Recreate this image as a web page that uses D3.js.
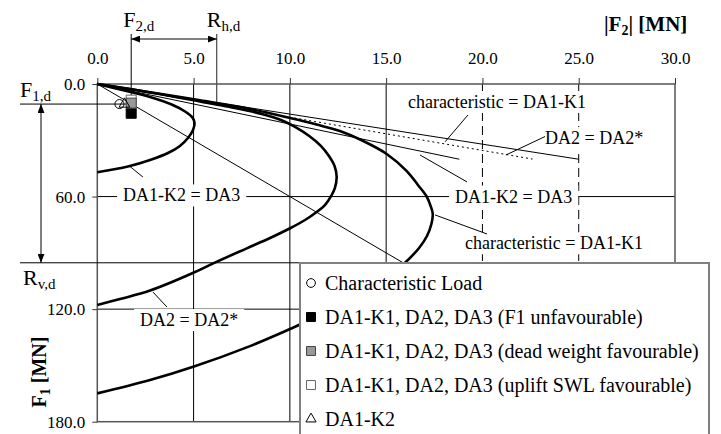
<!DOCTYPE html>
<html>
<head>
<meta charset="utf-8">
<script src="https://cdn.jsdelivr.net/npm/d3@7"></script>
<style>
  body { margin: 0; background: #fff; }
  svg { display: block; font-family: "Liberation Serif", "Times New Roman", serif; }
</style>
</head>
<body>
<div class="chart"></div>
<script>
// ticks of both axes (|F2| on top, F1 downwards)
const f2Ticks = [0, 5, 10, 15, 20, 25, 30];
const f1Ticks = [0, 60, 120, 180];
const dashedF2 = [20, 25];

// resistance curves, pairs of [|F2|, F1] in MN
const curveChar = [[0, 0], [2.74, 4.4], [5.33, 8.7], [7.93, 13.3], [10.01, 18.1], [11.39, 21.6],
  [12.6, 25.1], [13.81, 30.4], [15.03, 37.3], [16.07, 46.4], [16.65, 53.8], [17.11, 60.1],
  [17.33, 65.6], [17.42, 69.3], [17.35, 74.6], [17.12, 81.0], [16.71, 87.4], [15.98, 95.3],
  [15.3, 101.3], [14.42, 108.2], [13.38, 114.9], [12.08, 119.9], [10.53, 128.2], [10.01, 130.6],
  [7.93, 139.7], [5.02, 150.6], [2.74, 157.8], [0, 164.9]];
const curveDA2 = [[0, 0], [2.74, 4.5], [5.33, 9.3], [6.89, 12.3], [8.54, 16.0], [9.66, 19.7],
  [10.27, 22.9], [11.04, 28.0], [11.62, 33.1], [12.03, 38.4], [12.32, 43.7], [12.43, 49.4],
  [12.34, 55.4], [12.17, 59.2], [11.82, 64.5], [11.39, 68.2], [10.79, 72.5], [10.01, 76.9],
  [8.97, 82.1], [7.76, 87.6], [6.02, 95.6], [5.02, 100.5], [2.74, 110.1], [1.18, 114.6], [0, 117.8]];
const curveDA1K2 = [[0, 0], [1.35, 3.3], [2.74, 6.9], [3.95, 11.3], [4.6, 14.9], [4.95, 18.0],
  [5.05, 21.0], [4.97, 24.5], [4.73, 28.5], [4.29, 33.0], [3.67, 36.8], [2.74, 40.5],
  [1.59, 44.0], [0, 47.0]];

// straight lines out of the origin
const lineChar = [[0, 0], [25.0, 40.1]];
const lineDA2 = [[0, 0], [22.6, 40.0]];
const lineDA1K2 = [[0, 0], [18.8, 40.1]];
const loadLine = [[0, 0], [16.0, 96.0]];

// design values
const F2d = 1.76, Rhd = 6.2, F1d = 10.7, Rvd = 95.3;

// load points
const loadNames = ["Characteristic Load", "DA1-K1, DA2, DA3 (F1 unfavourable)",
  "DA1-K1, DA2, DA3 (dead weight favourable)", "DA1-K1, DA2, DA3 (uplift SWL favourable)", "DA1-K2"];
const loadF2 = [1.15, 1.76, 1.76, 1.76, 1.41];
const loadF1 = [10.7, 15.6, 10.2, 8.6, 10.7];

function chart() {
    const svg = d3.select("div.chart").append("svg")
        .attr("width", 721)
        .attr("height", 434);

    const x = d3.scaleLinear().domain([0, 30]).range([97.3, 675]);
    const y = d3.scaleLinear().domain([0, 180]).range([84, 421.7]);

    // arrow heads for the dimension lines
    svg.append("defs").append("marker")
        .attr("id", "arrow")
        .attr("markerUnits", "userSpaceOnUse")
        .attr("markerWidth", 9).attr("markerHeight", 7)
        .attr("refX", 9).attr("refY", 3.5)
        .attr("orient", "auto-start-reverse")
        .append("path").attr("d", "M0,0 L9,3.5 L0,7 z").attr("fill", "#000");

    // grid
    const grid = svg.append("g");
    grid.selectAll(".gv").data(f2Ticks.slice(1, -1)).enter().append("line")
        .attr("x1", d => x(d)).attr("x2", d => x(d))
        .attr("y1", y(0)).attr("y2", y(180))
        .attr("stroke", "#000")
        .attr("stroke-dasharray", d => dashedF2.includes(d) ? "9,5" : null);
    grid.selectAll(".gh").data(f1Ticks.slice(1, -1)).enter().append("line")
        .attr("x1", x(0)).attr("x2", x(30))
        .attr("y1", d => y(d)).attr("y2", d => y(d))
        .attr("stroke", "#000");

    svg.append("rect")
        .attr("x", x(0)).attr("y", y(0))
        .attr("width", x(30) - x(0)).attr("height", y(180) - y(0))
        .attr("fill", "none").attr("stroke", "#555").attr("stroke-width", 1.5);

    // axes
    const fmt = d3.format(".1f");
    const xAxis = svg.append("g")
        .attr("transform", `translate(0,${y(0)})`)
        .call(d3.axisTop(x).tickValues(f2Ticks).tickFormat(fmt)
            .tickSizeInner(6).tickSizeOuter(0).tickPadding(14));
    const yAxis = svg.append("g")
        .attr("transform", `translate(${x(0)},0)`)
        .call(d3.axisLeft(y).tickValues(f1Ticks).tickFormat(fmt)
            .tickSizeInner(5).tickSizeOuter(0).tickPadding(7));
    [xAxis, yAxis].forEach(a => {
        a.attr("font-family", null).attr("font-size", 17);
        a.select(".domain").remove();
        a.selectAll("line").attr("stroke", "#333");
        a.selectAll("text").attr("fill", "#000");
    });

    // axis titles
    const t2 = svg.append("text").attr("x", 604).attr("y", 31)
        .attr("font-size", 21).attr("font-weight", "bold");
    t2.append("tspan").text("|F");
    t2.append("tspan").attr("font-size", 14).attr("dy", 4).text("2");
    t2.append("tspan").attr("dy", -4).text("| [MN]");

    const t1 = svg.append("text")
        .attr("transform", "translate(46,372) rotate(-90)")
        .attr("text-anchor", "middle")
        .attr("font-size", 20).attr("font-weight", "bold");
    t1.append("tspan").text("F");
    t1.append("tspan").attr("font-size", 14).attr("dy", 4).text("1");
    t1.append("tspan").attr("dy", -4).text(" [MN]");

    // design value guides
    const guide = svg.append("g").attr("stroke", "#000").attr("fill", "none");
    guide.append("line").attr("x1", x(F2d)).attr("x2", x(F2d)).attr("y1", 34).attr("y2", y(F1d));
    guide.append("line").attr("x1", x(Rhd)).attr("x2", x(Rhd)).attr("y1", 34).attr("y2", y(F1d) - 1)
        .attr("stroke", "#555").attr("stroke-width", 1.3);
    guide.append("line").attr("x1", 20).attr("x2", x(F2d)).attr("y1", y(F1d)).attr("y2", y(F1d));
    guide.append("line").attr("x1", 20).attr("x2", x(30)).attr("y1", y(Rvd)).attr("y2", y(Rvd));
    guide.append("line").attr("x1", x(F2d)).attr("x2", x(Rhd)).attr("y1", 39).attr("y2", 39)
        .attr("marker-start", "url(#arrow)").attr("marker-end", "url(#arrow)");
    guide.append("line").attr("x1", 41).attr("x2", 41).attr("y1", y(F1d)).attr("y2", y(Rvd))
        .attr("marker-start", "url(#arrow)").attr("marker-end", "url(#arrow)");

    const subLabel = (px, py, main, sub) => {
        const t = svg.append("text").attr("x", px).attr("y", py).attr("font-size", 22);
        t.append("tspan").text(main);
        t.append("tspan").attr("font-size", 15).attr("dy", 4).text(sub);
    };
    subLabel(x(F2d) - 8, 27, "F", "2,d");
    subLabel(x(Rhd) - 10, 27, "R", "h,d");
    subLabel(20, 97, "F", "1,d");
    subLabel(23, 285, "R", "v,d");

    // lines and curves
    const path = d3.line().x(d => x(d[0])).y(d => y(d[1]));
    const smooth = d3.line().x(d => x(d[0])).y(d => y(d[1])).curve(d3.curveCatmullRom.alpha(0.5));
    const plot = svg.append("g").attr("fill", "none").attr("stroke", "#000");
    plot.append("path").attr("d", path(loadLine)).attr("stroke-width", 1);
    plot.append("path").attr("d", path(lineChar)).attr("stroke-width", 1);
    plot.append("path").attr("d", path(lineDA1K2)).attr("stroke-width", 1);
    plot.append("path").attr("d", path(lineDA2)).attr("stroke-width", 1).attr("stroke-dasharray", "2,3");
    [curveChar, curveDA2, curveDA1K2].forEach(c => {
        plot.append("path").attr("d", smooth(c)).attr("stroke-width", 2.6);
    });

    // curve labels with white boxes and leader lines
    const notes = [
        { text: "characteristic = DA1-K1", at: [16.13, 9.6], lead: [[19.25, 16.5], [18.06, 30.8]] },
        { text: "DA2 = DA2*", at: [23.25, 28.8], lead: [[23.25, 28.0], [21.22, 37.85]] },
        { text: "DA1-K2 = DA3", at: [18.58, 60.0], lead: [[19.2, 52.2], [16.76, 37.85]] },
        { text: "DA1-K2 = DA3", at: [1.34, 59.4], lead: [[1.7, 44.0], [2.37, 49.6]] },
        { text: "characteristic = DA1-K1", at: [19.09, 84.9], lead: [[17.54, 69.8], [20.24, 79.95]] },
        { text: "DA2 = DA2*", at: [2.22, 125.8], lead: [[2.89, 110.9], [3.62, 118.9]] }
    ];
    const noteG = svg.append("g");
    notes.forEach(n => {
        const g = noteG.append("g");
        const rect = g.append("rect").attr("fill", "#fff");
        const txt = g.append("text")
            .attr("x", x(n.at[0])).attr("y", y(n.at[1]))
            .attr("dominant-baseline", "central")
            .attr("font-size", 18)
            .text(n.text);
        const b = txt.node().getBBox();
        rect.attr("x", b.x - 6).attr("y", b.y - 1)
            .attr("width", b.width + 12).attr("height", b.height + 2);
        g.insert("path", "text").attr("d", path(n.lead))
            .attr("stroke", "#000").attr("fill", "none");
    });

    // load points
    const shapes = [d3.symbolCircle, d3.symbolSquare, d3.symbolSquare, d3.symbolSquare, d3.symbolTriangle];
    const fills = ["none", "#000", "#999", "#fff", "none"];
    const strokes = ["#000", "#000", "#444", "#666", "#000"];
    const sizes = [64, 100, 100, 100, 50];
    const order = [3, 1, 2, 0, 4];
    const pts = svg.append("g");
    order.forEach(i => {
        pts.append("path")
            .attr("transform", `translate(${x(loadF2[i])},${y(loadF1[i])})`)
            .attr("d", d3.symbol().type(shapes[i]).size(sizes[i])())
            .attr("fill", fills[i]).attr("stroke", strokes[i]);
    });

    // legend
    const legend = svg.append("g").attr("transform", "translate(300,263)");
    legend.append("rect")
        .attr("width", 409).attr("height", 200)
        .attr("fill", "#fff").attr("stroke", "#808080").attr("stroke-width", 2);
    const items = legend.selectAll(".item").data(loadNames).enter().append("g")
        .attr("transform", (d, i) => `translate(11,${20 + i * 34})`);
    items.append("path")
        .attr("d", (d, i) => d3.symbol().type(shapes[i]).size(i === 4 ? 45 : (i === 0 ? 60 : 80))())
        .attr("fill", (d, i) => fills[i]).attr("stroke", (d, i) => strokes[i]);
    items.append("text")
        .attr("x", 14).attr("y", 7)
        .attr("font-size", 20)
        .text(d => d);
}

chart();
</script>
</body>
</html>
